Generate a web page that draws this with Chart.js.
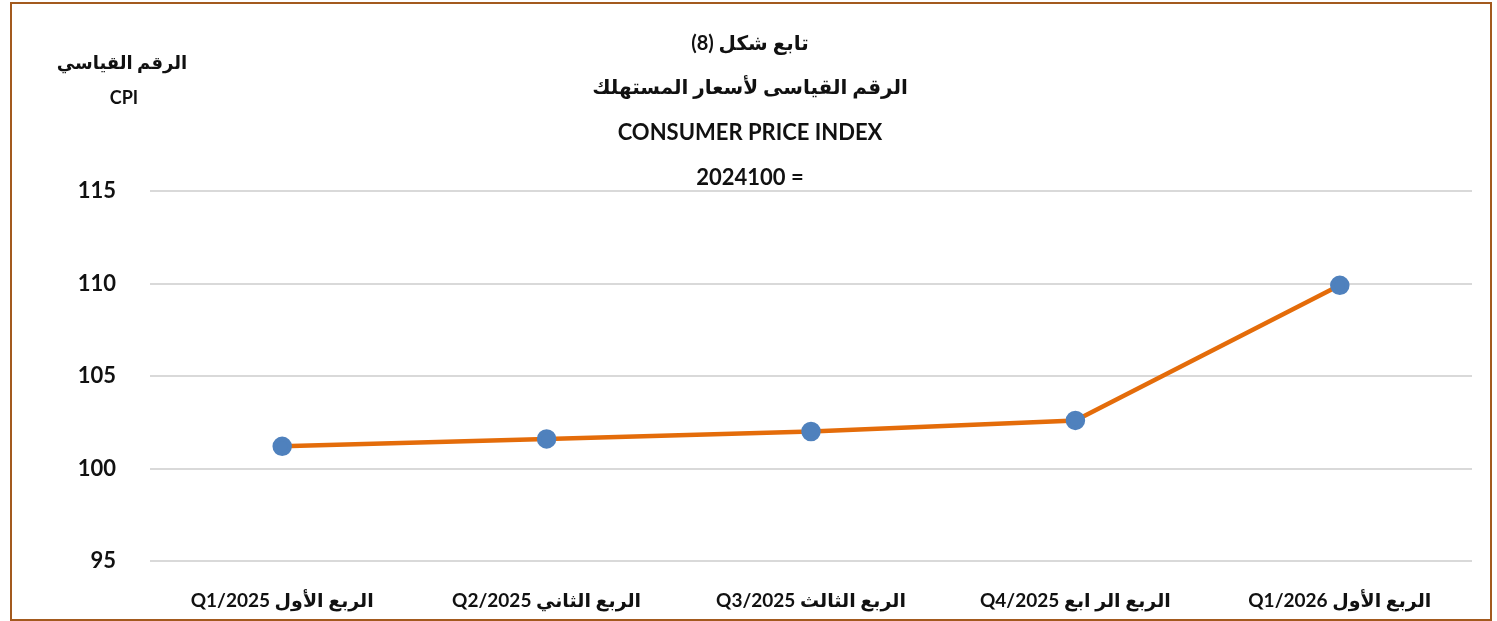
<!DOCTYPE html>
<html lang="ar">
<head>
    <meta charset="UTF-8">
    <title>CPI chart</title>
    <script src="https://cdn.jsdelivr.net/npm/chart.js"></script>
    <style>
        html, body { margin: 0; padding: 0; background: #fff; }
        #wrap { position: relative; width: 1497px; height: 621px; }
        #frame {
            position: absolute; left: 10px; top: 2px; width: 1478px; height: 615px;
            border: 2px solid #A35A1E; pointer-events: none;
        }
    </style>
</head>
<body>
    <div id="wrap">
        <canvas id="cpiChart"></canvas>
        <div id="frame"></div>
    </div>
    <script>
        const FONT = "Lato, 'DejaVu Sans', sans-serif";

        // quarters (x axis) and index values (2024 = 100)
        const quarters = [
            'Q1/2025 الربع الأول',
            'Q2/2025 الربع الثاني',
            'Q3/2025 الربع الثالث',
            'Q4/2025 الربع الر ابع',
            'Q1/2026 الربع الأول'
        ];
        const cpiValues = [101.2, 101.6, 102.0, 102.6, 109.9];
        const yTicks = [95, 100, 105, 110, 115];

        const titleLines = ['(8) تابع شكل', 'الرقم القياسى لأسعار المستهلك', 'CONSUMER PRICE INDEX', '2024100 ='];
        const yTitleLines = ['الرقم القياسي', 'CPI'];

        // draws the heading block and the small axis caption at top-left
        const headings = {
            id: 'headings',
            afterDraw(chart) {
                const c = chart.ctx;
                c.save();
                c.fillStyle = '#111';
                c.textAlign = 'center';
                c.textBaseline = 'middle';
                const tops = [44, 88, 133, 178];
                const sizes = [20, 20, 22, 22];
                titleLines.forEach((t, i) => {
                    c.font = 'bold ' + sizes[i] + 'px ' + FONT;
                    c.fillText(t, 750, tops[i]);
                });
                c.font = 'bold 18px ' + FONT;
                c.fillText(yTitleLines[0], 122, 63);
                c.fillText(yTitleLines[1], 124, 98);
                c.restore();
            }
        };

        const ctx = document.getElementById('cpiChart').getContext('2d');
        const chart = new Chart(ctx, {
            type: 'line',
            data: {
                labels: quarters,
                datasets: [{
                    label: 'CPI',
                    data: cpiValues,
                    borderColor: '#E46C0A',
                    borderWidth: 4.5,
                    pointBackgroundColor: '#4F81BD',
                    pointBorderColor: '#4F81BD',
                    pointRadius: 7.5,
                    pointHoverRadius: 7.5,
                    tension: 0,
                    fill: false
                }]
            },
            options: {
                responsive: true,
                maintainAspectRatio: false,
                animation: false,
                layout: { padding: { top: 191, right: 25, bottom: 0, left: 0 } },
                plugins: {
                    legend: { display: false },
                    tooltip: { enabled: false },
                    title: { display: false }
                },
                scales: {
                    x: {
                        offset: true,
                        afterFit(scale) { scale.height = 60; },
                        grid: { display: false, drawTicks: false },
                        border: { display: false },
                        ticks: {
                            padding: 28,
                            color: '#111',
                            maxRotation: 0,
                            autoSkip: false,
                            font: { family: FONT, size: 19, weight: 'bold' }
                        }
                    },
                    y: {
                        min: yTicks[0],
                        max: yTicks[yTicks.length - 1],
                        afterBuildTicks(scale) {
                            scale.ticks = yTicks.map(v => ({ value: v }));
                        },
                        afterFit(scale) { scale.width = 150; },
                        grid: { color: '#D9D9D9', lineWidth: 2, drawTicks: false },
                        border: { display: false },
                        ticks: {
                            padding: 34,
                            color: '#111',
                            font: { family: FONT, size: 22, weight: 'bold' }
                        }
                    }
                }
            },
            plugins: [headings]
        });
    </script>
</body>
</html>
